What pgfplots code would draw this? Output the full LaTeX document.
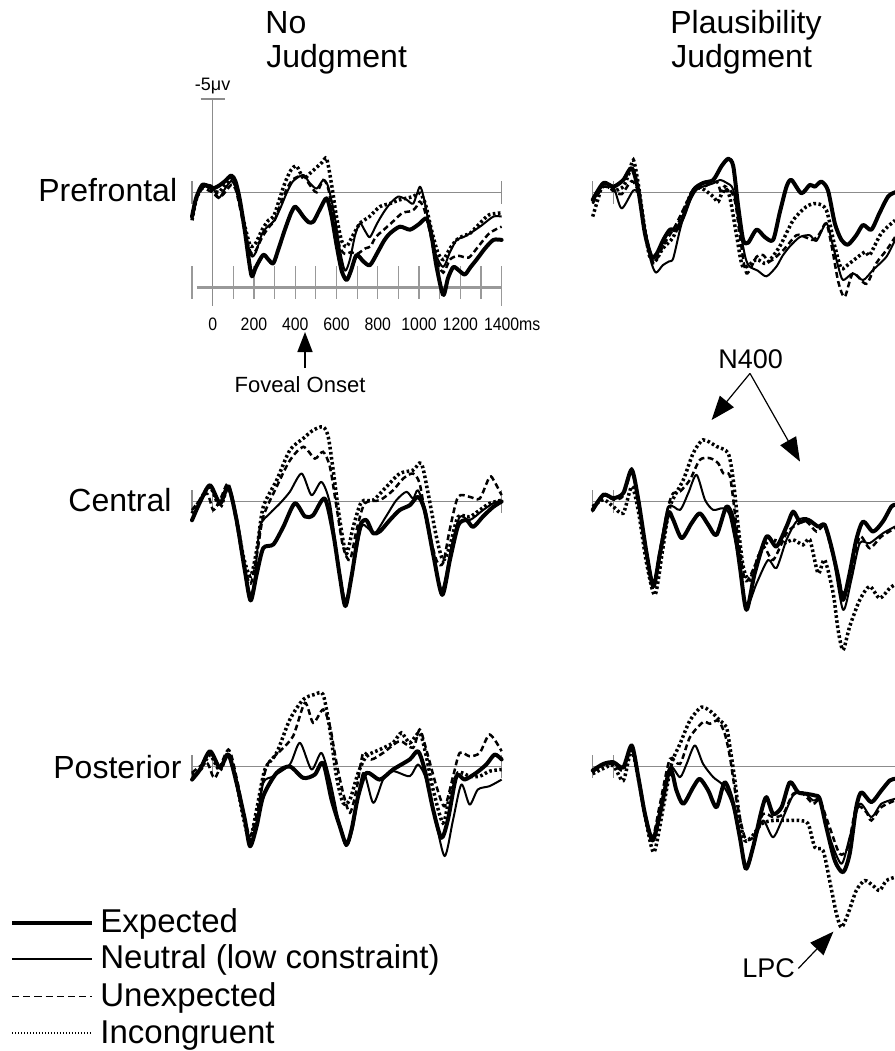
\documentclass[border=0pt]{standalone}
\usepackage{fontspec}
\setmainfont{Liberation Sans}
\newfontfamily\nsans[FakeStretch=0.88]{Liberation Sans}
\usepackage{pgfplots}
\pgfplotsset{compat=1.18}
\usetikzlibrary{arrows.meta}
\pgfplotsset{
  erp/.style={scale only axis, axis lines=none, ymin=-6, ymax=9, y dir=reverse,
    height=140.03pt, xmin=-100, clip=false, anchor=south west},
  erpL/.style={erp, xmax=1400, width=154.8pt},
  erpR/.style={erp, xmax=1364.7, width=151.16pt},
  expd/.style={black, line width=2pt, smooth, tension=0.45, line join=round, line cap=round, no markers},
  neut/.style={black, line width=1pt, smooth, tension=0.45, line join=round, no markers},
  unex/.style={black, line width=1.25pt, dash pattern=on 2.9pt off 1.7pt, smooth, tension=0.45, no markers},
  inco/.style={black, line width=1.75pt, dash pattern=on 1.3pt off 1.25pt, smooth, tension=0.45, no markers},
}
\tikzset{basel/.style={draw=black!45, line width=0.6pt}}
\begin{document}
\begin{tikzpicture}
\path[use as bounding box] (0,0) rectangle (447.5pt,-525.5pt);

% titles and labels
\node[anchor=base west, inner sep=0pt, font=\fontsize{16pt}{19pt}\selectfont] at (132.5pt,-16.5pt) {No};
\node[anchor=base west, inner sep=0pt, font=\fontsize{16pt}{19pt}\selectfont] at (133pt,-33.5pt) {Judgment};
\node[anchor=base west, inner sep=0pt, font=\fontsize{16pt}{19pt}\selectfont] at (335pt,-16.5pt) {Plausibility};
\node[anchor=base west, inner sep=0pt, font=\fontsize{16pt}{19pt}\selectfont] at (335.5pt,-33.5pt) {Judgment};
\node[anchor=base west, inner sep=0pt, font=\fontsize{16pt}{19pt}\selectfont] at (19pt,-100.85pt) {Prefrontal};
\node[anchor=base west, inner sep=0pt, font=\fontsize{16pt}{19pt}\selectfont] at (34pt,-255.85pt) {Central};
\node[anchor=base west, inner sep=0pt, font=\fontsize{16pt}{19pt}\selectfont] at (26.5pt,-389pt) {Posterior};

% ---------------- Prefrontal, No Judgment ----------------
\begin{axis}[erpL, at={(96.01pt,-180.17pt)}]
\draw[basel] (axis cs:-100,0) -- (axis cs:1400,0);
\draw[basel] (axis cs:-100,-0.6) -- (axis cs:-100,0.6);
\draw[basel] (axis cs:1400,-0.6) -- (axis cs:1400,0.6);
\draw[draw=black!45, line width=0.7pt] (axis cs:0,-5) -- (axis cs:0,6.1);
\draw[draw=black!45, line width=0.7pt] (axis cs:-58,-5) -- (axis cs:60,-5);
\draw[draw=black!40, line width=1.8pt] (axis cs:-77,5.09) -- (axis cs:1400,5.09);
\pgfplotsinvokeforeach{-100,100,200,300,400,500,600,700,800,900,1000,1100,1200,1300}{
  \draw[draw=black!40, line width=0.6pt] (axis cs:#1,3.95) -- (axis cs:#1,5.73);
}
\draw[draw=black!40, line width=0.6pt] (axis cs:1400,3.95) -- (axis cs:1400,6.1);
\pgfplotsinvokeforeach{0,200,400,600,800,1000,1200}{
  \node[anchor=base, inner sep=0pt, font=\nsans\fontsize{9pt}{10pt}\selectfont] at (axis cs:#1,7.38) {#1};
}
\node[anchor=base, inner sep=0pt, font=\nsans\fontsize{9pt}{10pt}\selectfont] at (axis cs:1400,7.38) {1400\rlap{ms}};
\node[anchor=base, inner sep=0pt, font=\fontsize{9pt}{10pt}\selectfont] at (axis cs:0,-5.43) {-5μv};
\addplot[inco] coordinates {(-100,1.5)(-80,0.4)(-50,-0.3)(-20,-0.3)(0,-0.1)(30,0.0)(60,-0.4)(90,-0.7)(110,-0.4)(130,0.5)(160,2.0)(180,2.8)(192,2.9)(210,2.7)(240,2.0)(270,1.5)(295,1.3)(320,0.5)(350,-0.5)(380,-1.2)(407,-1.4)(440,-0.75)(470,-1.0)(500,-1.3)(530,-1.6)(552,-1.8)(575,-0.5)(600,1.3)(625,2.6)(649,2.9)(680,2.3)(714,1.66)(760,1.3)(810,0.77)(860,0.6)(907,0.4)(970,0.23)(1004,0.05)(1030,0.6)(1060,2.0)(1090,3.2)(1117,3.6)(1150,3.0)(1182,2.55)(1220,2.3)(1247,2.2)(1300,1.6)(1340,1.2)(1400,1.1)};
\addplot[unex] coordinates {(-100,1.4)(-80,0.4)(-50,-0.2)(-20,-0.1)(0,0.0)(30,0.3)(60,0.0)(90,-0.4)(110,-0.2)(130,0.7)(160,2.3)(180,3.1)(192,3.3)(210,3.1)(240,2.4)(270,1.9)(300,1.5)(330,0.6)(360,-0.2)(390,-0.7)(439,-0.9)(470,-0.4)(504,0.0)(536,-0.66)(560,-0.2)(590,1.5)(615,2.9)(641,3.3)(670,3.2)(700,3.3)(740,3.0)(765,2.9)(790,2.4)(840,1.9)(880,1.5)(920,1.1)(965,1.0)(985,0.8)(1004,0.5)(1025,0.9)(1050,2.0)(1080,3.5)(1117,4.3)(1150,3.6)(1190,3.4)(1240,3.5)(1280,3.0)(1340,2.2)(1400,1.84)};
\addplot[neut] coordinates {(-100,1.2)(-80,0.3)(-50,-0.4)(-20,-0.4)(0,-0.3)(30,0.3)(60,-0.2)(90,-0.6)(110,-0.3)(130,0.6)(160,2.2)(180,3.2)(192,3.45)(210,3.2)(240,2.2)(270,1.8)(300,1.5)(330,0.8)(360,0.0)(390,-0.6)(439,-0.93)(470,-0.5)(504,-0.2)(536,-0.66)(560,-0.3)(590,1.2)(615,3.0)(641,4.2)(665,3.6)(690,2.3)(714,1.66)(740,2.1)(762,2.4)(795,1.7)(827,1.1)(860,0.6)(899,0.23)(940,0.4)(972,0.6)(1004,-0.3)(1025,0.4)(1050,1.8)(1080,3.3)(1117,4.0)(1150,3.2)(1182,2.55)(1215,2.4)(1247,2.2)(1300,1.8)(1360,1.3)(1400,1.3)};
\addplot[expd] coordinates {(-100,1.3)(-80,0.3)(-50,-0.4)(-20,-0.3)(0,-0.2)(30,-0.35)(60,-0.6)(90,-0.9)(110,-0.6)(130,0.3)(155,2.0)(175,3.6)(190,4.5)(210,4.0)(245,3.35)(270,3.6)(294,3.8)(320,3.0)(350,2.0)(380,1.1)(399,0.77)(420,1.0)(439,1.3)(465,1.6)(488,1.57)(520,0.9)(552,0.32)(575,1.2)(600,2.8)(625,4.2)(649,4.7)(670,4.2)(697,3.36)(730,3.7)(762,3.9)(800,3.2)(830,2.6)(859,2.2)(907,1.84)(956,2.0)(1000,1.7)(1037,1.4)(1060,2.3)(1085,4.0)(1117,5.5)(1140,4.6)(1166,4.0)(1195,4.2)(1222,4.4)(1250,4.0)(1279,3.6)(1320,3.0)(1360,2.55)(1400,2.55)};
\end{axis}

% ---------------- Prefrontal, Plausibility ----------------
\begin{axis}[erpR, at={(296.35pt,-180.17pt)}]
\draw[basel] (axis cs:-100,0) -- (axis cs:1364.7,0);
\draw[basel] (axis cs:-100,-0.6) -- (axis cs:-100,0.6);
\draw[basel] (axis cs:0,-0.6) -- (axis cs:0,0.6);
\addplot[inco] coordinates {(-100,1.3)(-70,0.2)(-48,-0.5)(0,-0.1)(48,-0.3)(75,-1.0)(97,-1.73)(120,-0.5)(150,1.8)(175,3.4)(202,3.7)(240,3.0)(290,2.4)(340,1.0)(387,-0.13)(430,-0.2)(484,0.23)(508,0.5)(540,-0.3)(565,0.3)(600,2.5)(629,4.0)(694,3.6)(742,3.8)(806,2.9)(871,1.5)(935,0.77)(984,0.6)(1032,0.95)(1073,2.9)(1105,4.07)(1145,3.8)(1218,3.2)(1242,3.36)(1298,2.2)(1365,1.5)};
\addplot[unex] coordinates {(-100,0.6)(-48,-0.3)(0,-0.1)(40,0.1)(89,-0.6)(121,0.0)(153,2.0)(194,3.8)(225,3.2)(258,2.55)(300,1.8)(340,0.9)(387,-0.1)(440,-0.3)(500,-0.57)(524,0.05)(560,-0.2)(590,0.5)(615,2.5)(645,4.34)(694,3.45)(726,3.36)(758,3.7)(823,3.1)(887,2.3)(930,2.4)(968,2.55)(1000,2.2)(1032,1.66)(1060,3.0)(1090,4.8)(1121,5.6)(1161,4.34)(1226,4.9)(1274,3.8)(1323,3.1)(1365,2.4)};
\addplot[neut] coordinates {(-100,0.5)(-48,-0.4)(0,-0.3)(40,0.86)(97,-0.1)(125,0.2)(150,1.8)(180,3.6)(206,4.3)(240,3.9)(270,3.7)(290,3.54)(323,2.0)(350,1.0)(403,-0.13)(484,-0.48)(516,-0.66)(550,-0.5)(581,-0.13)(610,1.8)(640,3.5)(661,3.98)(700,4.2)(742,4.5)(790,3.98)(820,3.4)(855,2.9)(903,2.4)(952,2.3)(984,2.6)(1032,1.66)(1060,2.7)(1090,4.0)(1113,4.7)(1161,4.34)(1210,4.7)(1258,4.16)(1323,3.45)(1365,2.55)};
\addplot[expd] coordinates {(-100,0.4)(-48,-0.5)(0,-0.3)(48,-0.66)(89,-1.3)(121,-0.1)(153,2.2)(185,3.45)(210,3.3)(242,2.55)(274,2.0)(306,2.0)(339,1.3)(387,-0.1)(435,-0.5)(484,-0.66)(524,-1.4)(557,-1.8)(581,-1.4)(605,0.77)(629,2.55)(653,2.7)(694,2.0)(734,2.4)(774,2.55)(806,1.1)(839,-0.3)(863,-0.66)(911,0.05)(952,-0.4)(976,-0.3)(1008,-0.57)(1040,-0.1)(1073,1.66)(1105,2.55)(1137,2.8)(1177,2.3)(1210,1.75)(1250,2.0)(1290,1.1)(1331,0.23)(1365,0.0)};
\end{axis}

% ---------------- Central, No Judgment ----------------
\begin{axis}[erpL, at={(96.01pt,-334.77pt)}]
\draw[basel] (axis cs:-100,0) -- (axis cs:1400,0);
\draw[basel] (axis cs:-100,-0.6) -- (axis cs:-100,0.6);
\draw[basel] (axis cs:0,-0.6) -- (axis cs:0,0.6);
\draw[basel] (axis cs:1400,-0.6) -- (axis cs:1400,0.6);
\addplot[inco] coordinates {(-100,0.64)(-60,-0.1)(-13,-0.79)(36,0.3)(76,-0.79)(116,1.0)(150,3.0)(184,4.0)(215,2.5)(245,0.29)(310,-1.14)(374,-2.75)(439,-3.38)(487,-3.82)(535,-4.0)(560,-3.46)(584,-1.68)(616,1.0)(648,2.79)(681,1.36)(721,0.02)(777,-0.07)(842,-0.79)(906,-1.5)(971,-1.68)(1011,-2.04)(1044,-0.43)(1084,1.89)(1116,3.14)(1148,2.43)(1189,0.82)(1245,0.82)(1294,0.46)(1342,0.1)(1400,-0.07)};
\addplot[unex] coordinates {(-100,0.46)(-29,-0.43)(3,0.46)(40,-0.2)(76,-0.96)(110,0.8)(150,3.3)(184,4.4)(215,2.8)(245,0.82)(310,-0.79)(374,-2.2)(439,-2.93)(495,-2.3)(535,-2.66)(568,-1.86)(600,0.29)(632,2.43)(665,3.14)(697,1.54)(737,0.1)(810,-0.07)(874,-0.6)(923,-1.23)(971,-1.5)(1003,-0.96)(1035,1.0)(1084,3.14)(1116,3.3)(1148,1.54)(1189,-0.25)(1245,-0.25)(1294,-0.16)(1342,-1.32)(1366,-1.05)(1400,-0.34)};
\addplot[neut] coordinates {(-100,1.0)(-60,0.0)(-13,-0.87)(36,0.1)(76,-0.8)(116,1.0)(156,3.6)(184,5.0)(205,4.0)(229,1.36)(277,0.64)(326,0.1)(374,-0.52)(431,-1.5)(479,-0.34)(527,-1.05)(568,0.1)(608,3.3)(644,5.3)(681,3.5)(721,1.36)(750,1.4)(786,1.7)(840,0.8)(890,-0.07)(939,-0.52)(971,-0.16)(995,-0.6)(1035,0.64)(1075,3.0)(1111,4.75)(1156,2.43)(1197,0.82)(1245,1.0)(1310,0.46)(1358,0.1)(1400,-0.07)};
\addplot[expd] coordinates {(-100,1.0)(-60,0.0)(-13,-0.87)(36,0.1)(76,-0.8)(116,1.0)(156,3.7)(184,5.3)(213,3.9)(245,2.5)(294,2.3)(342,1.36)(398,0.1)(447,0.8)(487,0.73)(543,-0.16)(584,1.7)(616,4.0)(643,5.6)(673,4.0)(713,1.36)(745,1.0)(777,1.7)(810,1.6)(858,1.0)(906,0.46)(955,0.2)(995,-0.25)(1027,0.46)(1068,2.8)(1112,5.0)(1150,3.1)(1190,1.27)(1230,1.0)(1262,1.36)(1310,0.8)(1358,0.3)(1400,0.0)};
\end{axis}

% ---------------- Central, Plausibility ----------------
\begin{axis}[erpR, at={(296.35pt,-334.77pt)}]
\draw[basel] (axis cs:-100,0) -- (axis cs:1364.7,0);
\draw[basel] (axis cs:-100,-0.6) -- (axis cs:-100,0.6);
\draw[basel] (axis cs:0,-0.6) -- (axis cs:0,0.6);
\addplot[inco] coordinates {(-100,0.27)(-48,-0.1)(0,0.27)(48,0.63)(89,-0.8)(121,0.5)(161,3.3)(202,5.0)(240,2.5)(274,0.27)(339,-1.16)(387,-2.59)(435,-3.3)(500,-2.95)(556,-2.59)(581,-1.16)(605,1.34)(629,3.48)(661,4.2)(710,2.77)(758,2.05)(823,2.23)(871,2.05)(919,2.32)(952,2.05)(992,3.84)(1024,3.13)(1065,4.91)(1089,6.88)(1113,7.95)(1145,6.7)(1194,5.27)(1242,4.55)(1290,5.18)(1339,4.64)(1365,4.45)};
\addplot[unex] coordinates {(-100,0.5)(-48,-0.4)(0,-0.1)(48,-0.3)(89,-1.6)(121,0.0)(161,2.7)(194,4.46)(226,2.6)(266,0.27)(290,-0.45)(323,-0.54)(371,-1.16)(419,-2.23)(468,-2.32)(508,-2.05)(532,-1.52)(565,-1.34)(597,1.34)(637,4.2)(677,3.66)(726,2.41)(774,3.13)(839,1.7)(887,1.25)(935,1.07)(984,1.61)(1024,1.34)(1065,2.95)(1113,4.91)(1153,3.84)(1194,1.88)(1242,2.5)(1298,1.88)(1365,1.43)};
\addplot[neut] coordinates {(-100,0.4)(-48,-0.3)(0,-0.2)(48,-0.4)(89,-1.79)(121,0.0)(161,2.6)(194,4.38)(226,2.6)(266,0.27)(323,0.45)(363,-0.45)(403,-1.43)(444,-0.09)(484,0.45)(532,0.36)(565,0.8)(613,3.48)(645,5.63)(694,4.38)(750,3.13)(790,3.57)(839,2.05)(887,1.07)(935,0.89)(992,1.34)(1024,1.34)(1065,2.95)(1113,5.8)(1153,4.2)(1194,2.23)(1242,2.23)(1306,1.7)(1365,1.34)};
\addplot[expd] coordinates {(-100,0.45)(-48,-0.36)(0,-0.18)(48,-0.45)(89,-1.7)(121,-0.09)(161,2.77)(194,4.55)(226,2.77)(266,0.63)(290,0.98)(331,1.96)(379,1.16)(419,0.63)(460,1.25)(500,1.79)(548,0.27)(581,0.98)(613,3.48)(645,5.8)(685,3.84)(742,1.88)(790,2.41)(839,1.34)(871,0.54)(903,1.07)(944,0.98)(992,1.34)(1024,1.25)(1056,2.41)(1089,4.02)(1113,5.27)(1145,3.84)(1177,2.05)(1210,1.07)(1258,1.61)(1306,1.07)(1347,0.27)(1365,0.18)};
\end{axis}

% ---------------- Posterior, No Judgment ----------------
\begin{axis}[erpL, at={(96.01pt,-467.27pt)}]
\draw[basel] (axis cs:-100,0) -- (axis cs:1400,0);
\draw[basel] (axis cs:-100,-0.6) -- (axis cs:-100,0.6);
\draw[basel] (axis cs:0,-0.6) -- (axis cs:0,0.6);
\draw[basel] (axis cs:1400,-0.6) -- (axis cs:1400,0.6);
\addplot[inco] coordinates {(-100,0.43)(-61,0.2)(-13,-0.6)(35,0.2)(76,-0.7)(116,0.9)(150,2.8)(181,3.91)(215,2.2)(253,0.16)(310,-0.73)(374,-2.52)(439,-3.59)(495,-3.86)(535,-3.86)(568,-1.98)(600,0.52)(632,1.95)(665,1.77)(705,0.34)(745,-0.55)(810,-0.91)(874,-1.27)(914,-1.8)(955,-1.27)(1003,-1.8)(1035,-0.55)(1068,1.23)(1116,3.02)(1148,1.59)(1189,0.34)(1245,0.52)(1294,0.52)(1342,0.25)(1400,0.16)};
\addplot[unex] coordinates {(-100,0.34)(-29,-0.2)(11,0.61)(76,-0.91)(116,0.6)(150,2.5)(181,3.73)(215,2.5)(261,0.0)(326,-0.82)(390,-1.63)(447,-3.41)(487,-2.34)(535,-3.05)(568,-2.16)(600,-0.2)(632,1.41)(665,2.48)(697,1.23)(729,-0.73)(769,-0.38)(826,-0.73)(906,-1.36)(971,-1.0)(1003,-1.98)(1035,-0.91)(1084,1.05)(1124,2.13)(1165,0.52)(1197,-0.73)(1245,-0.55)(1294,-0.73)(1342,-1.71)(1400,-0.82)};
\addplot[neut] coordinates {(-100,0.6)(-61,0.1)(-13,-0.75)(35,0.1)(76,-0.6)(116,0.9)(156,2.8)(181,4.1)(213,3.0)(245,0.88)(294,0.52)(374,-0.11)(423,-1.27)(479,0.16)(527,-0.73)(568,0.7)(616,3.2)(648,4.27)(681,3.2)(729,0.34)(778,1.95)(826,0.7)(874,0.25)(955,0.52)(995,-0.11)(1035,0.7)(1076,2.66)(1124,4.8)(1165,2.84)(1205,0.96)(1245,2.04)(1285,1.23)(1342,1.05)(1400,0.7)};
\addplot[expd] coordinates {(-100,0.7)(-61,0.16)(-13,-0.82)(35,0.07)(76,-0.64)(116,0.88)(156,2.84)(181,4.27)(213,3.2)(245,1.59)(310,0.34)(374,0.0)(439,0.61)(495,0.43)(535,-0.2)(576,1.77)(616,3.2)(648,4.18)(673,3.38)(705,1.59)(745,0.34)(810,0.7)(874,0.16)(955,-0.38)(995,-0.82)(1027,0.16)(1068,2.3)(1108,3.82)(1140,2.84)(1181,0.52)(1221,0.7)(1277,0.34)(1326,-0.11)(1366,-0.64)(1400,-0.38)};
\end{axis}

% ---------------- Posterior, Plausibility ----------------
\begin{axis}[erpR, at={(296.35pt,-467.27pt)}]
\draw[basel] (axis cs:-100,0) -- (axis cs:1364.7,0);
\draw[basel] (axis cs:-100,-0.6) -- (axis cs:-100,0.6);
\draw[basel] (axis cs:0,-0.6) -- (axis cs:0,0.6);
\addplot[inco] coordinates {(-100,0.39)(-48,0.1)(0,-0.05)(48,0.75)(89,-0.86)(129,1.11)(160,3.0)(197,4.59)(242,2.18)(282,-0.14)(323,-1.21)(371,-2.46)(427,-3.18)(476,-2.91)(516,-2.46)(548,-2.11)(565,-1.04)(589,0.75)(613,2.89)(637,3.96)(669,3.79)(718,3.07)(774,2.89)(839,2.89)(903,2.89)(944,3.07)(976,4.32)(1016,4.5)(1048,6.11)(1081,7.89)(1105,8.61)(1137,7.89)(1177,6.64)(1218,6.11)(1258,6.38)(1290,6.64)(1323,6.11)(1365,5.93)};
\addplot[unex] coordinates {(-100,0.3)(-48,-0.1)(0,-0.1)(48,0.2)(89,-0.95)(121,0.6)(153,2.5)(190,3.79)(226,2.0)(274,-0.41)(323,-0.14)(371,-1.57)(435,-2.38)(468,-2.29)(508,-2.46)(540,-1.75)(565,-0.5)(597,1.82)(637,3.79)(677,3.79)(726,2.54)(774,2.71)(823,2.54)(871,1.46)(919,1.46)(968,2.0)(1000,1.82)(1048,3.25)(1097,4.68)(1137,4.32)(1177,2.18)(1226,2.45)(1250,2.89)(1298,2.18)(1365,1.82)};
\addplot[neut] coordinates {(-100,0.2)(-48,-0.1)(0,-0.2)(48,0.1)(89,-1.04)(121,0.6)(153,2.4)(190,3.79)(226,2.3)(274,0.04)(323,0.57)(355,-0.14)(395,-1.13)(435,-0.14)(484,0.57)(532,1.02)(581,2.18)(645,5.39)(685,3.96)(726,2.89)(774,3.79)(823,2.71)(871,1.55)(919,1.38)(968,1.82)(1000,1.82)(1048,3.79)(1105,5.21)(1145,3.79)(1194,2.0)(1250,2.71)(1298,2.0)(1365,1.73)};
\addplot[expd] coordinates {(-100,0.21)(-48,-0.14)(0,-0.23)(48,0.04)(89,-1.13)(121,0.57)(153,2.54)(190,3.96)(226,2.54)(274,0.13)(306,1.29)(339,2.0)(387,1.11)(419,0.66)(460,1.29)(500,2.18)(540,0.84)(581,2.0)(613,3.79)(642,5.48)(677,4.32)(718,2.36)(742,1.64)(774,2.54)(815,2.18)(855,0.84)(895,1.38)(935,1.46)(976,1.55)(1000,1.73)(1032,3.25)(1073,5.04)(1113,5.66)(1145,4.68)(1177,2.18)(1202,1.38)(1250,1.91)(1298,1.29)(1339,0.75)(1365,0.66)};
\end{axis}

% annotations
\draw[line width=0.75pt, -{Triangle[length=10pt,width=7.5pt]}] (152.5pt,-184pt) -- (152.5pt,-166pt);
\node[anchor=base, inner sep=0pt, font=\fontsize{11pt}{13pt}\selectfont] at (150pt,-196pt) {Foveal Onset};
\node[anchor=base west, inner sep=0pt, font=\fontsize{13.5pt}{16pt}\selectfont] at (359pt,-184pt) {N400};
\draw[line width=0.6pt, -{Triangle[length=12pt,width=9pt]}] (375pt,-186.7pt) -- (355.8pt,-210pt);
\draw[line width=0.6pt, -{Triangle[length=12pt,width=9pt]}] (375pt,-186.7pt) -- (400pt,-230.8pt);
\node[anchor=base west, inner sep=0pt, font=\fontsize{13.5pt}{16pt}\selectfont] at (371pt,-488.5pt) {LPC};
\draw[line width=0.6pt, -{Triangle[length=12pt,width=9pt]}] (399.2pt,-484.2pt) -- (416.7pt,-465.8pt);

% legend
\draw[black, line width=2.2pt] (6pt,-461.35pt) -- (46pt,-461.35pt);
\draw[black, line width=1pt] (6pt,-479.5pt) -- (46pt,-479.5pt);
\draw[black, line width=0.7pt, dash pattern=on 3.6pt off 2pt] (6pt,-498.35pt) -- (46pt,-498.35pt);
\draw[black, line width=0.8pt, dash pattern=on 0.7pt off 0.8pt] (6pt,-516.5pt) -- (46pt,-516.5pt);
\node[anchor=base west, inner sep=0pt, font=\fontsize{16.5pt}{19pt}\selectfont] at (50pt,-466pt) {Expected};
\node[anchor=base west, inner sep=0pt, font=\fontsize{16.5pt}{19pt}\selectfont] at (50pt,-484.2pt) {Neutral (low constraint)};
\node[anchor=base west, inner sep=0pt, font=\fontsize{16.5pt}{19pt}\selectfont] at (50pt,-503.4pt) {Unexpected};
\node[anchor=base west, inner sep=0pt, font=\fontsize{16.5pt}{19pt}\selectfont] at (50pt,-521.6pt) {Incongruent};
\end{tikzpicture}
\end{document}
